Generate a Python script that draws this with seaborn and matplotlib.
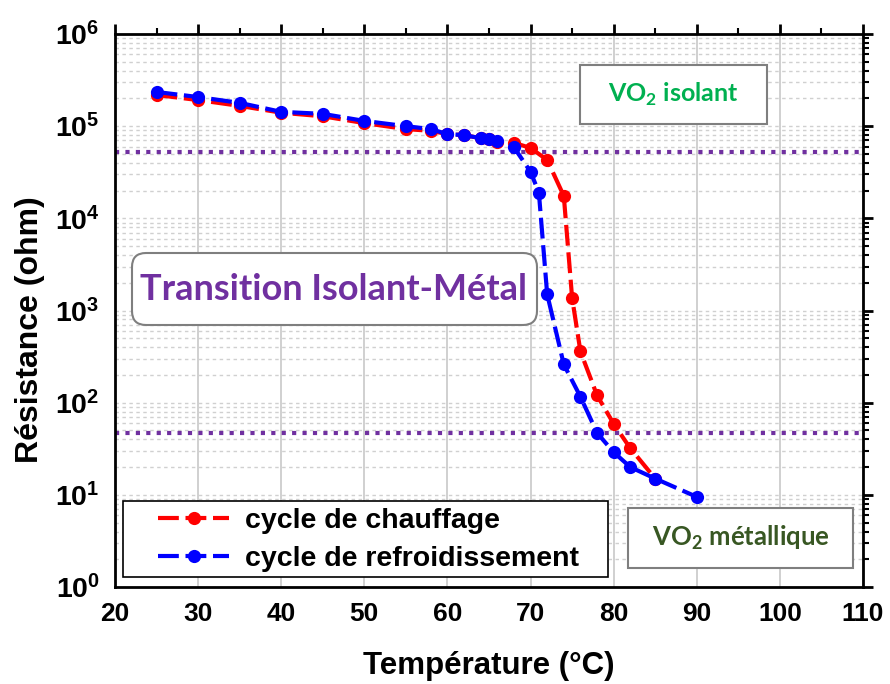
import numpy as np
import pandas as pd
import matplotlib
matplotlib.use("Agg")
import matplotlib.pyplot as plt
import seaborn as sns
from matplotlib.patches import FancyBboxPatch
from matplotlib.transforms import Affine2D
from matplotlib.ticker import FixedLocator, LogLocator, NullFormatter

# ---------------- data ----------------
temp_heat = [25, 30, 35, 40, 45, 50, 55, 58, 60, 62, 64, 65, 66, 68, 70, 72, 74, 75, 76, 78, 80, 82, 85]
res_heat = [2.18e5, 1.92e5, 1.66e5, 1.40e5, 1.28e5, 1.08e5, 9.3e4, 8.9e4, 8.2e4, 8.0e4, 7.4e4,
            7.2e4, 6.8e4, 6.6e4, 5.8e4, 4.3e4, 1.75e4, 1.37e3, 3.6e2, 1.2e2, 59, 32, 15]

temp_cool = [25, 30, 35, 40, 45, 50, 55, 58, 60, 62, 64, 65, 66, 68, 70, 71, 72, 74, 76, 78, 80, 82, 85, 90]
res_cool = [2.35e5, 2.07e5, 1.79e5, 1.43e5, 1.36e5, 1.14e5, 1.0e5, 9.3e4, 8.2e4, 8.0e4, 7.4e4,
            7.3e4, 6.9e4, 5.9e4, 3.2e4, 1.9e4, 1.5e3, 2.6e2, 1.16e2, 47, 29, 20, 15, 9.5]

label_heat = "cycle de chauffage"
label_cool = "cycle de refroidissement"
x_ticks = [20, 30, 40, 50, 60, 70, 80, 90, 100, 110]
x_minor = [25, 35, 45, 55, 65, 75, 85, 95, 105]
y_exponents = [0, 1, 2, 3, 4, 5, 6]
threshold_high = 5.2e4
threshold_low = 47
xlabel = "Température (°C)"
ylabel = "Résistance (ohm)"
txt_transition = "Transition Isolant-Métal"
txt_insul = r"VO$_\mathrm{2}$ isolant"
txt_metal = r"VO$_\mathrm{2}$ métallique"

# ---------------- style ----------------
sns.set_theme(style="white")
plt.rcParams['font.family'] = ['Liberation Sans', 'DejaVu Sans']
plt.rcParams['mathtext.fontset'] = 'custom'
plt.rcParams['mathtext.bf'] = 'Liberation Sans:bold'
plt.rcParams['mathtext.rm'] = 'Lato:bold'
plt.rcParams['text.color'] = 'black'

W, H = 890, 684
fig = plt.figure(figsize=(W / 100, H / 100), dpi=100)
fig.patch.set_facecolor('white')
ax = fig.add_axes([115 / W, 1 - 587 / H, 748 / W, 553 / H])
ax.set_yscale('log')

# pixel transform (y from top)
T = Affine2D().scale(1 / W, -1 / H).translate(0, 1) + fig.transFigure

red = '#ff0000'
blue = '#0000ff'
purple = '#7030a0'

ax.axhline(threshold_high, color=purple, lw=3, ls=(0, (1, 1.5)), zorder=2.5)
ax.axhline(threshold_low, color=purple, lw=3, ls=(0, (1, 1.5)), zorder=2.5)

df_heat = pd.DataFrame({'T': temp_heat, 'R': res_heat})
df_cool = pd.DataFrame({'T': temp_cool, 'R': res_cool})
sns.lineplot(data=df_heat, x='T', y='R', ax=ax, color=red, marker='o', markersize=9.5,
             markeredgecolor=red, markeredgewidth=0, lw=3, linestyle=(0, (5, 1.6)),
             label=label_heat, errorbar=None, zorder=3, legend=False)
sns.lineplot(data=df_cool, x='T', y='R', ax=ax, color=blue, marker='o', markersize=9.5,
             markeredgecolor=blue, markeredgewidth=0, lw=3, linestyle=(0, (5, 1.6)),
             label=label_cool, errorbar=None, zorder=4, legend=False)

ax.set_xlim(20, 110)
ax.set_ylim(1, 1e6)

ax.xaxis.set_major_locator(FixedLocator(x_ticks))
ax.xaxis.set_minor_locator(FixedLocator(x_minor))
ax.set_xticklabels([str(v) for v in x_ticks], fontsize=19, fontweight='bold', color='black')
ax.yaxis.set_major_locator(FixedLocator([10.0 ** e for e in y_exponents]))
ax.yaxis.set_minor_locator(LogLocator(base=10, subs=range(2, 10), numticks=20))
ax.yaxis.set_minor_formatter(NullFormatter())
ax.set_yticklabels([r'$\mathbf{10^{%d}}$' % e for e in y_exponents], fontsize=20.5, color='black')

ax.tick_params(which='major', direction='out', length=7, width=2, top=True, right=True,
               colors='black', labelcolor='black', pad=4)
ax.tick_params(which='minor', direction='out', length=4, width=1.5, top=True, right=True,
               colors='black')
ax.tick_params(axis='y', which='major', pad=4)

ax.grid(True, axis='x', which='major', color='#c8c8c8', lw=1.2, ls='-')
ax.grid(True, axis='y', which='both', color='#d0d0d0', lw=1, ls=(0, (2.5, 2.5)))
ax.set_axisbelow(True)
for s in ax.spines.values():
    s.set_visible(True)
    s.set_linewidth(2)
    s.set_color('black')

ax.set_xlabel(xlabel, fontsize=22.5, fontweight='bold', color='black')
ax.set_ylabel(ylabel, fontsize=23, fontweight='bold', color='black')
ax.xaxis.set_label_coords(0.5, -0.115)
ax.yaxis.set_label_coords(-0.094, 0.465)

# ---------------- boxes ----------------
def box(x0, y0, x1, y1, edge, lw, rounding=0, z=5):
    style = "round,pad=0,rounding_size=%g" % rounding if rounding else "square,pad=0"
    p = FancyBboxPatch((x0, y0), x1 - x0, y1 - y0, boxstyle=style, transform=T,
                       facecolor='white', edgecolor=edge, lw=lw, zorder=z)
    fig.add_artist(p)

box(132, 253, 537, 325, '#7f7f7f', 1.5, rounding=14)
fig.text(334, 289, txt_transition, transform=T, ha='center', va='center', fontsize=26,
         fontweight='bold', family=['Lato', 'DejaVu Sans'], color=purple, zorder=6)

box(580, 65, 767, 124, '#7f7f7f', 1.5)
fig.text(673, 94, txt_insul, transform=T, ha='center', va='center', fontsize=18,
         fontweight='bold', family=['Lato', 'DejaVu Sans'], color='#00b050', zorder=6)

box(628, 508, 853, 568, '#7f7f7f', 1.5)
fig.text(741, 538, txt_metal, transform=T, ha='center', va='center', fontsize=18.5,
         fontweight='bold', family=['Lato', 'DejaVu Sans'], color='#385723', zorder=6)

box(123, 501, 608, 577, 'black', 1.2)
handles = [ax.get_lines()[2], ax.get_lines()[3]]
leg = fig.legend(handles, [label_heat, label_cool], loc='center left',
                 bbox_to_anchor=(158, 540), bbox_transform=T, frameon=False,
                 borderpad=0, borderaxespad=0, handlelength=2.5, handletextpad=0.55,
                 labelspacing=0.4,
                 prop={'size': 20.5, 'weight': 'bold', 'family': 'Liberation Sans'})
for t in leg.get_texts():
    t.set_color('black')
leg.set_zorder(7)

fig.savefig('out.png', dpi=100, facecolor='white')
